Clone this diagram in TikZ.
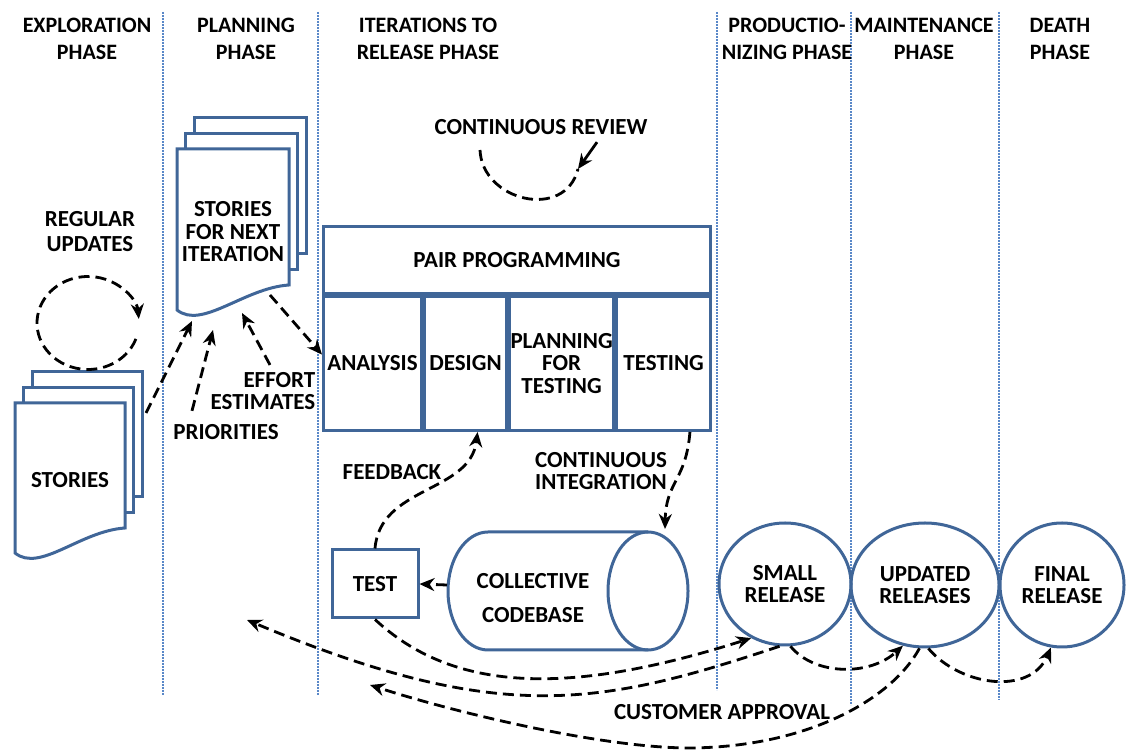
\documentclass[tikz,border=0pt]{standalone}
\usepackage{fontspec}
\setmainfont{Carlito}
\usepackage{tikz}
\usetikzlibrary{arrows.meta,positioning,shapes.geometric,calc}

\definecolor{boxblue}{RGB}{64,102,152}
\definecolor{phaseblue}{RGB}{90,136,200}

% three stacked pages: left x, top y, width, height
\newcommand{\pagestack}[4]{%
  \draw[box,fill=white] (#1+17,#2+31) rectangle ++(#3,-#4);
  \draw[box,fill=white] (#1+8,#2+15) rectangle ++(#3,-#4);
  \draw[box,fill=white] (#1,#2) -- (#1+#3,#2) -- (#1+#3,#2-#4)
    .. controls (#1+#3-45,#2-#4-3) and (#1+25,#2-#4-45) .. (#1,#2-#4-25) -- cycle;
}

\begin{document}
\begin{tikzpicture}[
    x=1pt, y=1pt,
    font=\bfseries\fontsize{23}{22.5}\selectfont,
    box/.style={draw=boxblue, line width=3pt},
    stage/.style={box, minimum height=134pt, inner sep=1pt, align=center},
    release/.style={box, ellipse, inner sep=0pt, align=center},
    phasetitle/.style={align=center, font=\bfseries\fontsize{22}{27}\selectfont},
    note/.style={align=center, inner sep=1pt},
    phaseline/.style={draw=phaseblue, line width=1.6pt, dash pattern=on 1.6pt off 1.4pt},
    to/.style={-{Stealth[length=15pt,width=13pt]}, line width=2.8pt, dash pattern=on 11pt off 6pt},
    tosolid/.style={-{Stealth[length=15pt,width=13pt]}, line width=2.8pt},
  ]
  \useasboundingbox (0,0) rectangle (1126,751);

  % phase columns
  \foreach \x/\yend in {163/56, 318/56, 717/61, 851/46, 999/51}
    \draw[phaseline] (\x,739) -- (\x,\yend);

  \node[phasetitle] (exploration) at (87,712) {EXPLORATION\\PHASE};
  \node[phasetitle] (planning) at (246,712) {PLANNING\\PHASE};
  \node[phasetitle] (iterations) at (428,712) {ITERATIONS TO\\RELEASE PHASE};
  \node[phasetitle] (productionizing) at (787,712) {PRODUCTIO-\\NIZING PHASE};
  \node[phasetitle] (maintenance) at (924,712) {MAINTENANCE\\PHASE};
  \node[phasetitle] (death) at (1060,712) {DEATH\\PHASE};

  % exploration
  \pagestack{15}{348}{110}{125}
  \node (stories) at (70,271) {STORIES};
  \node[note, font=\bfseries\fontsize{23}{25}\selectfont] (regular) at (90,519) {REGULAR\\UPDATES};
  \coordinate (loop) at (88,428);
  \draw[to] (loop) ++(-20:51 and 46.5) arc[start angle=-20, end angle=-355, x radius=51, y radius=46.5];

  % planning
  \pagestack{177}{602}{112}{136}
  \node[note] (next) at (233,519) {STORIES\\FOR NEXT\\ITERATION};
  \node[note, align=right] (effort) at (263,360) {EFFORT\\ESTIMATES};
  \node (priorities) at (226,319) {PRIORITIES};
  \coordinate (stories-out) at (146,338);
  \coordinate (next-in) at (192,430);
  \coordinate (next-out) at (270,456);

  % iterations to release
  \node (review) at (541,624) {CONTINUOUS REVIEW};
  \coordinate (review-in) at (480,601);
  \coordinate (review-out) at (578,582);
  \node[box, minimum width=387pt, minimum height=67pt, anchor=north west] (pair) at (322,526) {PAIR PROGRAMMING};
  \node[stage, minimum width=98pt, anchor=north west] (analysis) at (pair.south west) {ANALYSIS};
  \node[stage, minimum width=82pt, right=0pt of analysis] (design) {DESIGN};
  \node[stage, minimum width=104pt, right=0pt of design] (planfortest) {PLANNING\\FOR\\TESTING};
  \node[stage, minimum width=94pt, right=0pt of planfortest] (testing) {TESTING};

  \node[box, minimum width=86pt, minimum height=68pt] (test) at (375,167) {TEST};
  \draw[box] (648,219) -- (488,219) arc[start angle=90, end angle=270, x radius=40, y radius=59] -- (648,101);
  \draw[box] (648,160) ellipse [x radius=40, y radius=59];
  \node[align=center] (codebase) at (533,153) {COLLECTIVE\\[12pt]CODEBASE};
  \coordinate (codebase-w) at (447,166);
  \coordinate (codebase-ne) at (665,222);
  \node[note] (feedback) at (392,279) {FEEDBACK};
  \node[note] (integration) at (601,280) {CONTINUOUS\\INTEGRATION};

  % releases
  \node[release, minimum width=132pt, minimum height=122pt] (small) at (785,167) {SMALL\\RELEASE};
  \node[release, minimum width=148pt, minimum height=124pt] (updated) at (925,166) {UPDATED\\RELEASES};
  \node[release, minimum width=124pt, minimum height=124pt] (final) at (1062,166) {FINAL\\RELEASE};
  \node (approval) at (722,39) {CUSTOMER APPROVAL};
  \coordinate (back-a) at (247,131);
  \coordinate (back-b) at (370,66);

  \draw[to] (stories-out) -- (next-in);
  \draw[to] ($(priorities.north)+(-34,10)$) -- (213,421);
  \draw[to] ($(effort.north)+(7,6)$) -- (242,438);
  \draw[to] (next-out) -- (analysis.170);
  \draw[line width=2.8pt, dash pattern=on 11pt off 6pt] (review-in) .. controls (482,550) and (565,530) .. (review-out);
  \draw[tosolid] ($(review.south)+(56,-4)$) -- (review-out);
  \draw[to] (test.north) .. controls (380,265) and (470,258) .. (design.-80);
  \draw[to] (testing.-69) .. controls (686,270) and (666,270) .. (codebase-ne);
  \draw[to] (codebase-w) -- (test.east);
  \draw[to] (test.south) .. controls (450,62) and (560,52) .. (small.-122);
  \draw[to] (small.-95) .. controls (600,45) and (500,25) .. (back-a);
  \draw[to] (small.-85) .. controls (815,75) and (870,75) .. (updated.-110);
  \draw[to] (updated.-95) .. controls (892,52) and (808,4) .. (690,3) .. controls (600,3) and (450,40) .. (back-b);
  \draw[to] (updated.-87) .. controls (960,65) and (1030,55) .. (final.-100);
\end{tikzpicture}
\end{document}
